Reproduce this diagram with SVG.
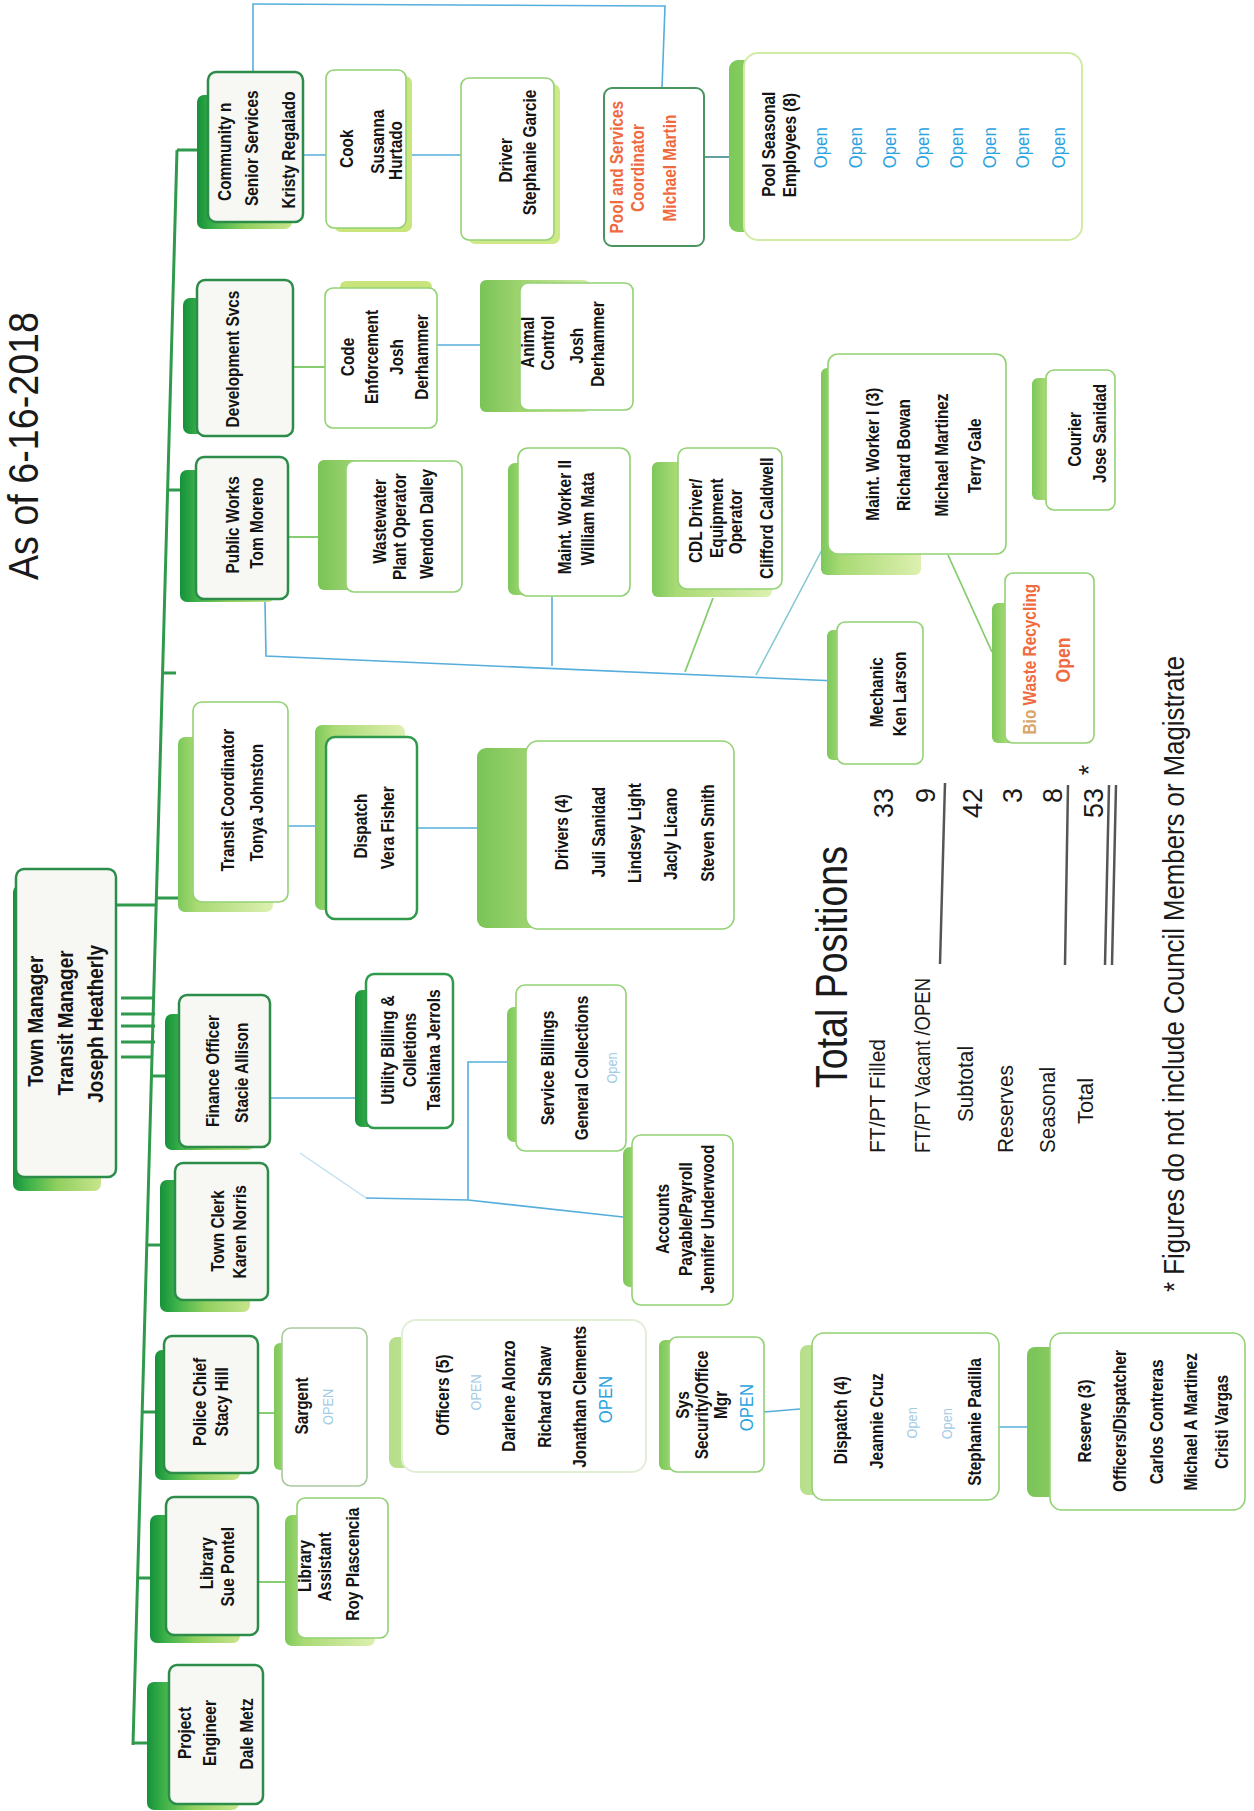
<svg xmlns="http://www.w3.org/2000/svg" width="1254" height="1811" viewBox="0 0 1254 1811">
<defs>
<style>
.t{font-family:"Liberation Sans",Arial,sans-serif;font-weight:700;font-size:17.5px;fill:#141414;text-anchor:middle}
.tm{font-size:21.5px}
.o{font-weight:400;fill:#2aa3df;font-size:19px}
.of{font-weight:400;fill:#a3cce6;font-size:14.5px}
.or{fill:#ef6a3f}
.f{fill:#f7f8f4;stroke:#2c8c4a;stroke-width:2.5}
.f2{fill:#ffffff;stroke:#2f9a4c;stroke-width:2.5}
.l{fill:#ffffff;stroke:#93d273;stroke-width:1.6}
.cg{stroke:#2f9a4c;stroke-width:3;fill:none}
.cgl{stroke:#86cc70;stroke-width:1.8;fill:none}
.cb{stroke:#55aedc;stroke-width:1.6;fill:none}
.s{font-family:"Liberation Sans",Arial,sans-serif;fill:#1a1a1a}
.rule{stroke:#555;stroke-width:2.5}
</style>
<linearGradient id="gD" x1="0" y1="0" x2="1" y2="0"><stop offset="0" stop-color="#15913a"/><stop offset="0.18" stop-color="#3db24a"/><stop offset="0.5" stop-color="#8fcf5e"/><stop offset="1" stop-color="#c8e58c"/></linearGradient>
<linearGradient id="gL" x1="0" y1="0" x2="1" y2="0"><stop offset="0" stop-color="#7cc85a"/><stop offset="0.2" stop-color="#a9da74"/><stop offset="1" stop-color="#ddf0b0"/></linearGradient>
<linearGradient id="gM" x1="0" y1="0" x2="1" y2="0"><stop offset="0" stop-color="#79c457"/><stop offset="0.4" stop-color="#a3d572"/><stop offset="1" stop-color="#d4ebab"/></linearGradient>
<linearGradient id="gL2" x1="0" y1="0" x2="1" y2="0"><stop offset="0" stop-color="#b6df8a"/><stop offset="1" stop-color="#eaf5d0"/></linearGradient>
</defs>
<rect width="1254" height="1811" fill="#ffffff"/>

<g id="connectors">
<path class="cg" d="M177 150 L133 1745"/>
<path class="cg" d="M177 150 H197 M168 490 H180 M163 673 H176 M116 905 H156 M156 898 H178 M151 1076 H165 M147 1245 H160 M142 1412 H155 M137.5 1578 H150 M133 1743 H147"/>
<path class="cg" d="M121 998 H155 M121 1014 H155 M121 1026 H155 M121 1042 H155"/>
<path class="cg" d="M121 1057 H152" stroke-width="4"/>
<path class="cb" d="M253 101 V4 L665 6 L662 88"/>
<path class="cb" d="M303 155 H326 M409 155 H461 M437 345 H480"/>
<path d="M705 157 H729" stroke="#3d8a8a" stroke-width="1.6"/>
<path class="cgl" d="M293 367 H325 M288 537 H318"/>
<path class="cb" d="M265 602 L266 656 L837 681 M552 597 V666"/>
<path class="cgl" d="M713 598 L685 672"/>
<path d="M823 548 L756 675" stroke="#86c8cf" stroke-width="1.6"/>
<path class="cgl" d="M948 555 L992 652"/>
<path class="cb" d="M288 826 H315 M417 828 H526 M270 1098 H356"/>
<path d="M300 1153 L366 1198" stroke="#bfe0f0" stroke-width="1.4"/>
<path class="cb" d="M366 1198 L468 1200 V1062 H516 M468 1200 L623 1217"/>
<path class="cgl" d="M258 1413 H274 M258 1582 H285"/>
<path class="cb" d="M764 1412 L800 1409 M999 1427 H1027"/>
</g>

<g id="title">
<text class="s" font-size="42" text-anchor="middle" textLength="268" lengthAdjust="spacingAndGlyphs" transform="rotate(-90)" x="-446" y="38">As of 6-16-2018</text>
</g>

<g id="town-manager">
<rect x="13" y="885" width="88" height="306" rx="7" fill="url(#gD)"/>
<rect class="f" x="16" y="869" width="100" height="308" rx="8"/>
<g transform="matrix(1,0,0,0.88,0,122.8)"><text class="t tm" transform="rotate(-90)"><tspan x="-1021" y="43">Town Manager</tspan><tspan x="-1023" y="73">Transit Manager</tspan><tspan x="-1024" y="103">Joseph Heatherly</tspan></text></g>
</g>

<g id="community-senior-services">
<rect x="197" y="95" width="95" height="134" rx="7" fill="url(#gD)"/>
<rect class="f" x="208" y="72" width="95" height="150" rx="8"/>
<g transform="matrix(1,0,0,0.88,0,18)"><text class="t" transform="rotate(-90)"><tspan x="-152" y="231">Community n</tspan><tspan x="-148" y="258">Senior Services</tspan><tspan x="-150" y="295">Kristy Regalado</tspan></text></g>
</g>

<g id="cook">
<rect x="334" y="76" width="78" height="156" rx="7" fill="#c9e57c"/>
<rect class="l" x="326" y="70" width="80" height="158" rx="8"/>
<g transform="matrix(1,0,0,0.88,0,17.6)"><text class="t" transform="rotate(-90)"><tspan x="-149" y="353">Cook</tspan><tspan x="-141" y="384">Susanna</tspan><tspan x="-151" y="402">Hurtado</tspan></text></g>
</g>

<g id="driver">
<rect x="468" y="84" width="92" height="160" rx="7" fill="#cfe88a"/>
<rect class="l" x="461" y="78" width="93" height="162" rx="8"/>
<g transform="matrix(1,0,0,0.88,0,18.7)"><text class="t" transform="rotate(-90)"><tspan x="-161" y="512">Driver</tspan><tspan x="-152" y="536">Stephanie Garcie</tspan></text></g>
</g>

<g id="pool-coordinator">
<rect x="604" y="88" width="100" height="158" rx="8" fill="#ffffff" stroke="#4a9460" stroke-width="2"/>
<g transform="matrix(1,0,0,0.88,0,20.2)"><text class="t or" transform="rotate(-90)"><tspan x="-167" y="623">Pool and Services</tspan><tspan x="-168" y="644">Coordinator</tspan><tspan x="-168" y="676">Michael Martin</tspan></text></g>
</g>

<g id="pool-seasonal">
<rect x="729" y="60" width="330" height="172" rx="9" fill="url(#gL)"/>
<rect x="744" y="53" width="338" height="187" rx="14" fill="#ffffff" stroke="#d3eaa6" stroke-width="2"/>
<g transform="matrix(1,0,0,0.88,0,17.5)"><text class="t" transform="rotate(-90)"><tspan x="-144" y="775">Pool Seasonal</tspan><tspan x="-145" y="796">Employees (8)</tspan></text>
<text class="t o" transform="rotate(-90)"><tspan x="-148" y="827">Open</tspan><tspan x="-148" y="862">Open</tspan><tspan x="-148" y="896">Open</tspan><tspan x="-148" y="929">Open</tspan><tspan x="-148" y="963">Open</tspan><tspan x="-148" y="996">Open</tspan><tspan x="-148" y="1029">Open</tspan><tspan x="-148" y="1065">Open</tspan></text></g>
</g>

<g id="development-svcs">
<rect x="183" y="298" width="95" height="136" rx="7" fill="url(#gD)"/>
<rect class="f" x="197" y="280" width="96" height="156" rx="8"/>
<g transform="matrix(1,0,0,0.88,0,43.1)"><text class="t" transform="rotate(-90)"><tspan x="-359" y="239">Development Svcs</tspan></text></g>
</g>

<g id="code-enforcement">
<rect x="340" y="281" width="92" height="40" rx="6" fill="#c8e47a"/>
<rect class="l" x="325" y="288" width="112" height="140" rx="8"/>
<g transform="matrix(1,0,0,0.88,0,42.8)"><text class="t" transform="rotate(-90)"><tspan x="-357" y="354">Code</tspan><tspan x="-357" y="378">Enforcement</tspan><tspan x="-357" y="403">Josh</tspan><tspan x="-357" y="428">Derhammer</tspan></text></g>
</g>

<g id="animal-control">
<rect x="480" y="280" width="110" height="132" rx="6" fill="url(#gM)"/>
<rect class="l" x="520" y="283" width="113" height="127" rx="8"/>
<g transform="matrix(1,0,0,0.88,0,41.3)"><text class="t" transform="rotate(-90)"><tspan x="-342" y="534">Animal</tspan><tspan x="-343" y="554">Control</tspan><tspan x="-346" y="583">Josh</tspan><tspan x="-344" y="604">Derhammer</tspan></text></g>
</g>

<g id="public-works">
<rect x="180" y="470" width="95" height="132" rx="7" fill="url(#gD)"/>
<rect class="f" x="196" y="457" width="92" height="142" rx="8"/>
<g transform="matrix(1,0,0,0.88,0,62.9)"><text class="t" transform="rotate(-90)"><tspan x="-525" y="239">Public Works</tspan><tspan x="-523" y="263">Tom Moreno</tspan></text></g>
</g>

<g id="wastewater">
<rect x="318" y="460" width="100" height="130" rx="6" fill="url(#gM)"/>
<rect class="l" x="346" y="461" width="116" height="131" rx="8"/>
<g transform="matrix(1,0,0,0.88,0,62.9)"><text class="t" transform="rotate(-90)"><tspan x="-521" y="386">Wastewater</tspan><tspan x="-527" y="406">Plant Operator</tspan><tspan x="-524" y="433">Wendon Dalley</tspan></text></g>
</g>

<g id="maint-worker-2">
<rect x="508" y="463" width="100" height="132" rx="7" fill="url(#gL)"/>
<rect class="l" x="518" y="448" width="112" height="148" rx="10"/>
<g transform="matrix(1,0,0,0.88,0,62.2)"><text class="t" transform="rotate(-90)"><tspan x="-517" y="571">Maint. Worker II</tspan><tspan x="-519" y="594">William Mata</tspan></text></g>
</g>

<g id="cdl-driver">
<rect x="652" y="462" width="120" height="135" rx="6" fill="url(#gL)"/>
<rect class="l" x="678" y="448" width="104" height="141" rx="9"/>
<g transform="matrix(1,0,0,0.88,0,62.4)"><text class="t" transform="rotate(-90)"><tspan x="-521" y="702">CDL Driver/</tspan><tspan x="-518" y="723">Equipment</tspan><tspan x="-522" y="742">Operator</tspan><tspan x="-518" y="773">Clifford Caldwell</tspan></text></g>
</g>

<g id="maint-worker-1">
<rect x="821" y="368" width="100" height="207" rx="6" fill="url(#gL)"/>
<rect class="l" x="828" y="354" width="178" height="200" rx="10"/>
<g transform="matrix(1,0,0,0.88,0,54.6)"><text class="t" transform="rotate(-90)"><tspan x="-454" y="879">Maint. Worker I  (3)</tspan><tspan x="-455" y="910">Richard Bowan</tspan><tspan x="-455" y="948">Michael Martinez</tspan><tspan x="-456" y="981">Terry Gale</tspan></text></g>
</g>

<g id="courier">
<rect x="1032" y="378" width="70" height="122" rx="6" fill="url(#gL)"/>
<rect class="l" x="1046" y="370" width="69" height="140" rx="8"/>
<g transform="matrix(1,0,0,0.88,0,52.3)"><text class="t" transform="rotate(-90)"><tspan x="-440" y="1081">Courier</tspan><tspan x="-433" y="1106">Jose Sanidad</tspan></text></g>
</g>

<g id="mechanic">
<rect x="827" y="630" width="80" height="130" rx="6" fill="url(#gL)"/>
<rect class="l" x="837" y="622" width="86" height="142" rx="8"/>
<g transform="matrix(1,0,0,0.88,0,83.2)"><text class="t" transform="rotate(-90)"><tspan x="-692" y="883">Mechanic</tspan><tspan x="-694" y="906">Ken Larson</tspan></text></g>
</g>

<g id="bio-waste">
<rect x="992" y="603" width="80" height="140" rx="6" fill="url(#gL)"/>
<rect class="l" x="1005" y="573" width="89" height="170" rx="8"/>
<g transform="matrix(1,0,0,0.88,0,79.2)"><text class="t or" font-weight="400" font-size="18" transform="rotate(-90)"><tspan x="-659" y="1036"><tspan fill="#d9a56a">Bio</tspan> Waste Recycling</tspan><tspan x="-660" y="1070" font-size="20">Open</tspan></text></g>
</g>

<g id="transit-coordinator">
<rect x="178" y="737" width="95" height="175" rx="7" fill="url(#gL)"/>
<rect class="l" x="193" y="702" width="95" height="200" rx="9"/>
<g transform="matrix(1,0,0,0.88,0,96.1)"><text class="t" transform="rotate(-90)"><tspan x="-800" y="234">Transit Coordinator</tspan><tspan x="-803" y="263">Tonya Johnston</tspan></text></g>
</g>

<g id="dispatch-transit">
<rect x="315" y="725" width="90" height="185" rx="7" fill="url(#gL)"/>
<rect class="f2" x="326" y="737" width="91" height="182" rx="9"/>
<g transform="matrix(1,0,0,0.88,0,99.2)"><text class="t" transform="rotate(-90)"><tspan x="-826" y="367">Dispatch</tspan><tspan x="-828" y="394">Vera Fisher</tspan></text></g>
</g>

<g id="drivers">
<rect x="477" y="748" width="150" height="180" rx="9" fill="url(#gM)"/>
<rect class="l" x="526" y="741" width="208" height="188" rx="12"/>
<g transform="matrix(1,0,0,0.88,0,100)"><text class="t" transform="rotate(-90)"><tspan x="-832" y="568">Drivers (4)</tspan><tspan x="-832" y="605">Juli Sanidad</tspan><tspan x="-833" y="641">Lindsey Light</tspan><tspan x="-834" y="677">Jacly Licano</tspan><tspan x="-833" y="714">Steven Smith</tspan></text></g>
</g>

<g id="finance-officer">
<rect x="165" y="1014" width="90" height="136" rx="7" fill="url(#gD)"/>
<rect class="f" x="179" y="995" width="91" height="152" rx="8"/>
<g transform="matrix(1,0,0,0.88,0,128.6)"><text class="t" transform="rotate(-90)"><tspan x="-1071" y="219">Finance Officer</tspan><tspan x="-1073" y="248">Stacie Allison</tspan></text></g>
</g>

<g id="utility-billing">
<rect x="355" y="990" width="80" height="137" rx="7" fill="url(#gD)"/>
<rect class="f2" x="366" y="974" width="87" height="154" rx="8"/>
<g transform="matrix(1,0,0,0.88,0,126)"><text class="t" transform="rotate(-90)"><tspan x="-1050" y="394">Utility Billing &amp;</tspan><tspan x="-1050" y="416">Colletions</tspan><tspan x="-1050" y="440">Tashiana Jerrols</tspan></text></g>
</g>

<g id="service-billings">
<rect x="507" y="1007" width="90" height="135" rx="7" fill="url(#gL)"/>
<rect class="l" x="516" y="985" width="110" height="166" rx="9"/>
<g transform="matrix(1,0,0,0.88,0,128.2)"><text class="t" transform="rotate(-90)"><tspan x="-1068" y="554">Service Billings</tspan><tspan x="-1068" y="588">General Collections</tspan></text>
<text class="t of" transform="rotate(-90)" x="-1068" y="617" font-size="17">Open</text></g>
</g>

<g id="accounts-payable">
<rect x="623" y="1147" width="90" height="140" rx="7" fill="url(#gL)"/>
<rect class="l" x="632" y="1135" width="101" height="170" rx="9"/>
<g transform="matrix(1,0,0,0.88,0,146.3)"><text class="t" transform="rotate(-90)"><tspan x="-1219" y="669">Accounts</tspan><tspan x="-1219" y="692">Payable/Payroll</tspan><tspan x="-1219" y="714">Jennifer Underwood</tspan></text></g>
</g>

<g id="town-clerk">
<rect x="160" y="1180" width="90" height="132" rx="7" fill="url(#gD)"/>
<rect class="f" x="175" y="1163" width="93" height="137" rx="8"/>
<g transform="matrix(1,0,0,0.88,0,147.7)"><text class="t" transform="rotate(-90)"><tspan x="-1231" y="224">Town Clerk</tspan><tspan x="-1232" y="246">Karen Norris</tspan></text></g>
</g>

<g id="police-chief">
<rect x="155" y="1350" width="85" height="130" rx="7" fill="url(#gD)"/>
<rect class="f" x="164" y="1336" width="94" height="137" rx="8"/>
<g transform="matrix(1,0,0,0.88,0,168.2)"><text class="t" transform="rotate(-90)"><tspan x="-1402" y="206">Police Chief</tspan><tspan x="-1402" y="228">Stacy Hill</tspan></text></g>
</g>

<g id="sargent">
<rect x="274" y="1343" width="80" height="127" rx="6" fill="url(#gL)"/>
<rect x="282" y="1328" width="85" height="158" rx="9" fill="#ffffff" stroke="#a9c8a0" stroke-width="1.6"/>
<g transform="matrix(1,0,0,0.88,0,168.7)"><text class="t" transform="rotate(-90)" x="-1406" y="308">Sargent</text>
<text class="t of" transform="rotate(-90)" x="-1407" y="333" font-size="13">OPEN</text></g>
</g>

<g id="officers">
<rect x="389" y="1337" width="200" height="131" rx="8" fill="url(#gL2)"/>
<rect x="402" y="1320" width="244" height="152" rx="14" fill="#ffffff" stroke="#e3eed6" stroke-width="2"/>
<g transform="matrix(1,0,0,0.88,0,167.5)"><text class="t" transform="rotate(-90)"><tspan x="-1395" y="449">Officers (5)</tspan><tspan x="-1396" y="515">Darlene Alonzo</tspan><tspan x="-1397" y="551">Richard Shaw</tspan><tspan x="-1397" y="586">Jonathan Clements</tspan></text>
<text class="t of" transform="rotate(-90)" x="-1392" y="481">OPEN</text>
<text class="t o" transform="rotate(-90)" x="-1400" y="612" font-size="15.5">OPEN</text></g>
</g>

<g id="sys-security">
<rect x="659" y="1340" width="90" height="130" rx="6" fill="url(#gL)"/>
<rect class="l" x="669" y="1337" width="95" height="135" rx="8"/>
<g transform="matrix(1,0,0,0.88,0,168.6)"><text class="t" transform="rotate(-90)"><tspan x="-1405" y="689">Sys</tspan><tspan x="-1405" y="708">Security/Office</tspan><tspan x="-1405" y="727">Mgr</tspan></text>
<text class="t o" transform="rotate(-90)" x="-1408" y="753" font-size="15.5">OPEN</text></g>
</g>

<g id="dispatch-police">
<rect x="800" y="1345" width="150" height="150" rx="8" fill="url(#gL2)"/>
<rect class="l" x="812" y="1333" width="187" height="167" rx="12"/>
<g transform="matrix(1,0,0,0.88,0,170.6)"><text class="t" transform="rotate(-90)"><tspan x="-1420" y="847">Dispatch (4)</tspan><tspan x="-1421" y="883">Jeannie Cruz</tspan><tspan x="-1422" y="981">Stephanie Padilla</tspan></text>
<text class="t of" transform="rotate(-90)"><tspan x="-1423" y="917">Open</tspan><tspan x="-1424" y="952">Open</tspan></text></g>
</g>

<g id="reserve">
<rect x="1027" y="1347" width="180" height="150" rx="8" fill="url(#gM)"/>
<rect class="l" x="1050" y="1333" width="195" height="177" rx="12"/>
<g transform="matrix(1,0,0,0.88,0,170.5)"><text class="t" transform="rotate(-90)"><tspan x="-1421" y="1091">Reserve (3)</tspan><tspan x="-1421" y="1126">Officers/Dispatcher</tspan><tspan x="-1422" y="1163">Carlos Contreras</tspan><tspan x="-1422" y="1197">Michael A Martinez</tspan><tspan x="-1422" y="1228">Cristi Vargas</tspan></text></g>
</g>

<g id="library">
<rect x="150" y="1515" width="90" height="128" rx="7" fill="url(#gD)"/>
<rect class="f" x="166" y="1497" width="92" height="138" rx="8"/>
<g transform="matrix(1,0,0,0.88,0,187.8)"><text class="t" transform="rotate(-90)"><tspan x="-1563" y="213">Library</tspan><tspan x="-1567" y="234">Sue Pontel</tspan></text></g>
</g>

<g id="library-assistant">
<rect x="285" y="1515" width="90" height="131" rx="7" fill="url(#gL)"/>
<rect class="l" x="297" y="1498" width="91" height="140" rx="8"/>
<g transform="matrix(1,0,0,0.88,0,187.9)"><text class="t" transform="rotate(-90)"><tspan x="-1566" y="311">Library</tspan><tspan x="-1567" y="331">Assistant</tspan><tspan x="-1564" y="359">Roy Plascencia</tspan></text></g>
</g>

<g id="project-engineer">
<rect x="147" y="1682" width="92" height="128" rx="7" fill="url(#gD)"/>
<rect class="f" x="169" y="1665" width="94" height="139" rx="8"/>
<g transform="matrix(1,0,0,0.88,0,208)"><text class="t" transform="rotate(-90)"><tspan x="-1733" y="191">Project</tspan><tspan x="-1733" y="216">Engineer</tspan><tspan x="-1734" y="253">Dale Metz</tspan></text></g>
</g>

<g id="total-positions">
<text class="s" font-size="44" text-anchor="middle" textLength="242" lengthAdjust="spacingAndGlyphs" transform="rotate(-90)" x="-967" y="847">Total Positions</text>
<g font-size="22">
<text class="s" transform="rotate(-90)" x="-1153" y="885" textLength="114" lengthAdjust="spacingAndGlyphs">FT/PT Filled</text>
<text class="s" transform="rotate(-90)" x="-1153" y="930" textLength="175" lengthAdjust="spacingAndGlyphs">FT/PT Vacant /OPEN</text>
<text class="s" transform="rotate(-90)" x="-1122" y="973" textLength="76" lengthAdjust="spacingAndGlyphs">Subtotal</text>
<text class="s" transform="rotate(-90)" x="-1153" y="1013" textLength="88" lengthAdjust="spacingAndGlyphs">Reserves</text>
<text class="s" transform="rotate(-90)" x="-1153" y="1055" textLength="86" lengthAdjust="spacingAndGlyphs">Seasonal</text>
<text class="s" transform="rotate(-90)" x="-1124" y="1093" textLength="46" lengthAdjust="spacingAndGlyphs">Total</text>
</g>
<text class="s" font-size="27" text-anchor="end" transform="rotate(-90)"><tspan x="-788" y="893">33</tspan><tspan x="-788" y="935">9</tspan><tspan x="-788" y="982">42</tspan><tspan x="-788" y="1022">3</tspan><tspan x="-788" y="1062">8</tspan><tspan x="-788" y="1103">53</tspan></text>
<text class="s" font-size="27" text-anchor="middle" transform="rotate(-90)" x="-770" y="1098">*</text>
<path class="rule" d="M945 783 L940 964 M1068 785 L1065 965"/>
<path class="rule" stroke-width="2" d="M1109 785 L1105 965 M1116 785 L1112 965"/>
<text class="s" font-size="30" transform="rotate(-90)" x="-1292" y="1184" textLength="636" lengthAdjust="spacingAndGlyphs">* Figures do not include Council Members or Magistrate</text>
</g>
</svg>
